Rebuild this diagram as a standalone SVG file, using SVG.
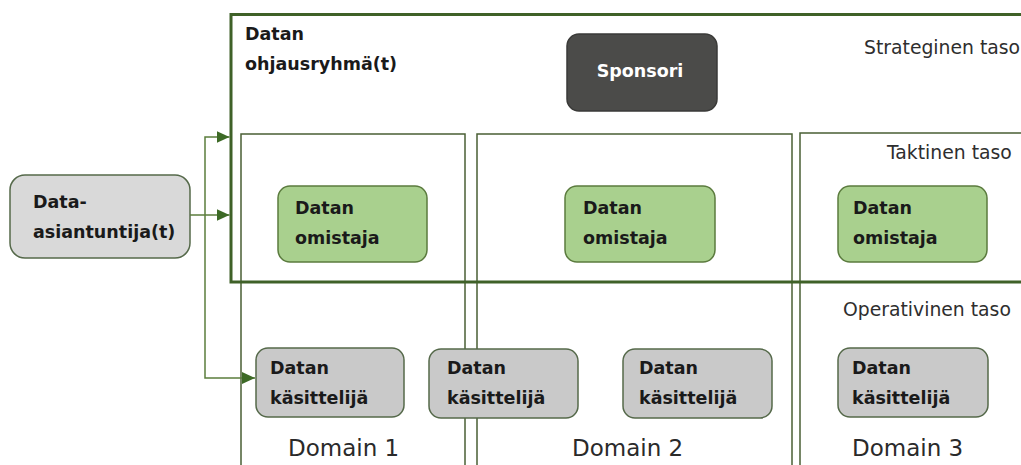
<svg xmlns="http://www.w3.org/2000/svg" width="1021" height="465" viewBox="0 0 1021 465">
<style>
.bg{fill:#ffffff}
.domain{fill:none;stroke:#4a5f35;stroke-width:1.5}
.outer{fill:none;stroke:#3f6128;stroke-width:3}
.owner{fill:#a9d08e;stroke:#5b7b3e;stroke-width:1.5}
.handler{fill:#c9c9c9;stroke:#55694a;stroke-width:1.5}
.expert{fill:#d9d9d9;stroke:#55694a;stroke-width:1.5}
.sponsor{fill:#4b4b49;stroke:#3a3a38;stroke-width:1.5}
.b{font-family:"DejaVu Sans",sans-serif;font-weight:bold;font-size:17.5px;fill:#1a1a1a}
.w{font-family:"DejaVu Sans",sans-serif;font-weight:bold;font-size:17.5px;fill:#ffffff}
.r{font-family:"DejaVu Sans",sans-serif;font-size:18.8px;fill:#2e2e2e}
.d{font-family:"DejaVu Sans",sans-serif;font-size:23px;fill:#2a2a2a}
.conn{fill:none;stroke:#5b7d3c;stroke-width:1.5}
</style>
<defs>
<marker id="arr" markerUnits="userSpaceOnUse" markerWidth="14" markerHeight="12" refX="13" refY="6" orient="auto">
<path d="M0,0 L13,6 L0,12 Z" fill="#3d6a26"/>
</marker>
</defs>
<rect class="bg" x="0" y="0" width="1021" height="465"/>
<g id="domains">
<rect id="domain1" class="domain" x="241" y="134" width="224" height="345"/>
<rect id="domain2" class="domain" x="477" y="134" width="315" height="345"/>
<rect id="domain3" class="domain" x="800" y="133" width="240" height="345"/>
</g>
<g id="ohjausryhma">
<path class="outer" d="M1030 14.5 H231 V282 H1030"/>
<text class="b" x="245" y="40">Datan</text>
<text class="b" x="245" y="70">ohjausryhmä(t)</text>
</g>
<g id="levels">
<text class="r" x="864" y="54">Strateginen taso</text>
<text class="r" x="887" y="159">Taktinen taso</text>
<text class="r" x="843" y="316">Operativinen taso</text>
</g>
<g id="domain-labels">
<text class="d" x="288" y="456">Domain 1</text>
<text class="d" x="572" y="456">Domain 2</text>
<text class="d" x="852" y="456">Domain 3</text>
</g>
<g id="sponsori">
<rect class="sponsor" x="567" y="34" width="150" height="77" rx="12"/>
<text class="w" x="640" y="77" text-anchor="middle">Sponsori</text>
</g>
<g id="asiantuntija">
<rect class="expert" x="10" y="175" width="180" height="83" rx="15"/>
<text class="b" x="33" y="208">Data-</text>
<text class="b" x="33" y="238">asiantuntija(t)</text>
</g>
<g id="omistaja1">
<rect class="owner" x="278" y="186" width="149" height="76" rx="12"/>
<text class="b" x="295" y="214">Datan</text>
<text class="b" x="295" y="244">omistaja</text>
</g>
<g id="omistaja2">
<rect class="owner" x="565" y="186" width="150" height="76" rx="12"/>
<text class="b" x="583" y="214">Datan</text>
<text class="b" x="583" y="244">omistaja</text>
</g>
<g id="omistaja3">
<rect class="owner" x="838" y="186" width="149" height="76" rx="12"/>
<text class="b" x="853" y="214">Datan</text>
<text class="b" x="853" y="244">omistaja</text>
</g>
<g id="kasittelija1">
<rect class="handler" x="256" y="348" width="148" height="69" rx="12"/>
<text class="b" x="270" y="374">Datan</text>
<text class="b" x="270" y="404">käsittelijä</text>
</g>
<g id="kasittelija2">
<rect class="handler" x="429" y="349" width="149" height="69" rx="12"/>
<text class="b" x="447" y="374">Datan</text>
<text class="b" x="447" y="404">käsittelijä</text>
</g>
<g id="kasittelija3">
<rect class="handler" x="623" y="349" width="149" height="69" rx="12"/>
<text class="b" x="639" y="374">Datan</text>
<text class="b" x="639" y="404">käsittelijä</text>
</g>
<g id="kasittelija4">
<rect class="handler" x="838" y="348" width="150" height="69" rx="12"/>
<text class="b" x="852" y="374">Datan</text>
<text class="b" x="852" y="404">käsittelijä</text>
</g>
<g id="connectors">
<path class="conn" d="M190 215 H229.5" marker-end="url(#arr)"/>
<path class="conn" d="M205 215 V137 H229.5" marker-end="url(#arr)"/>
<path class="conn" d="M205 215 V378 H255" marker-end="url(#arr)"/>
</g>
</svg>
